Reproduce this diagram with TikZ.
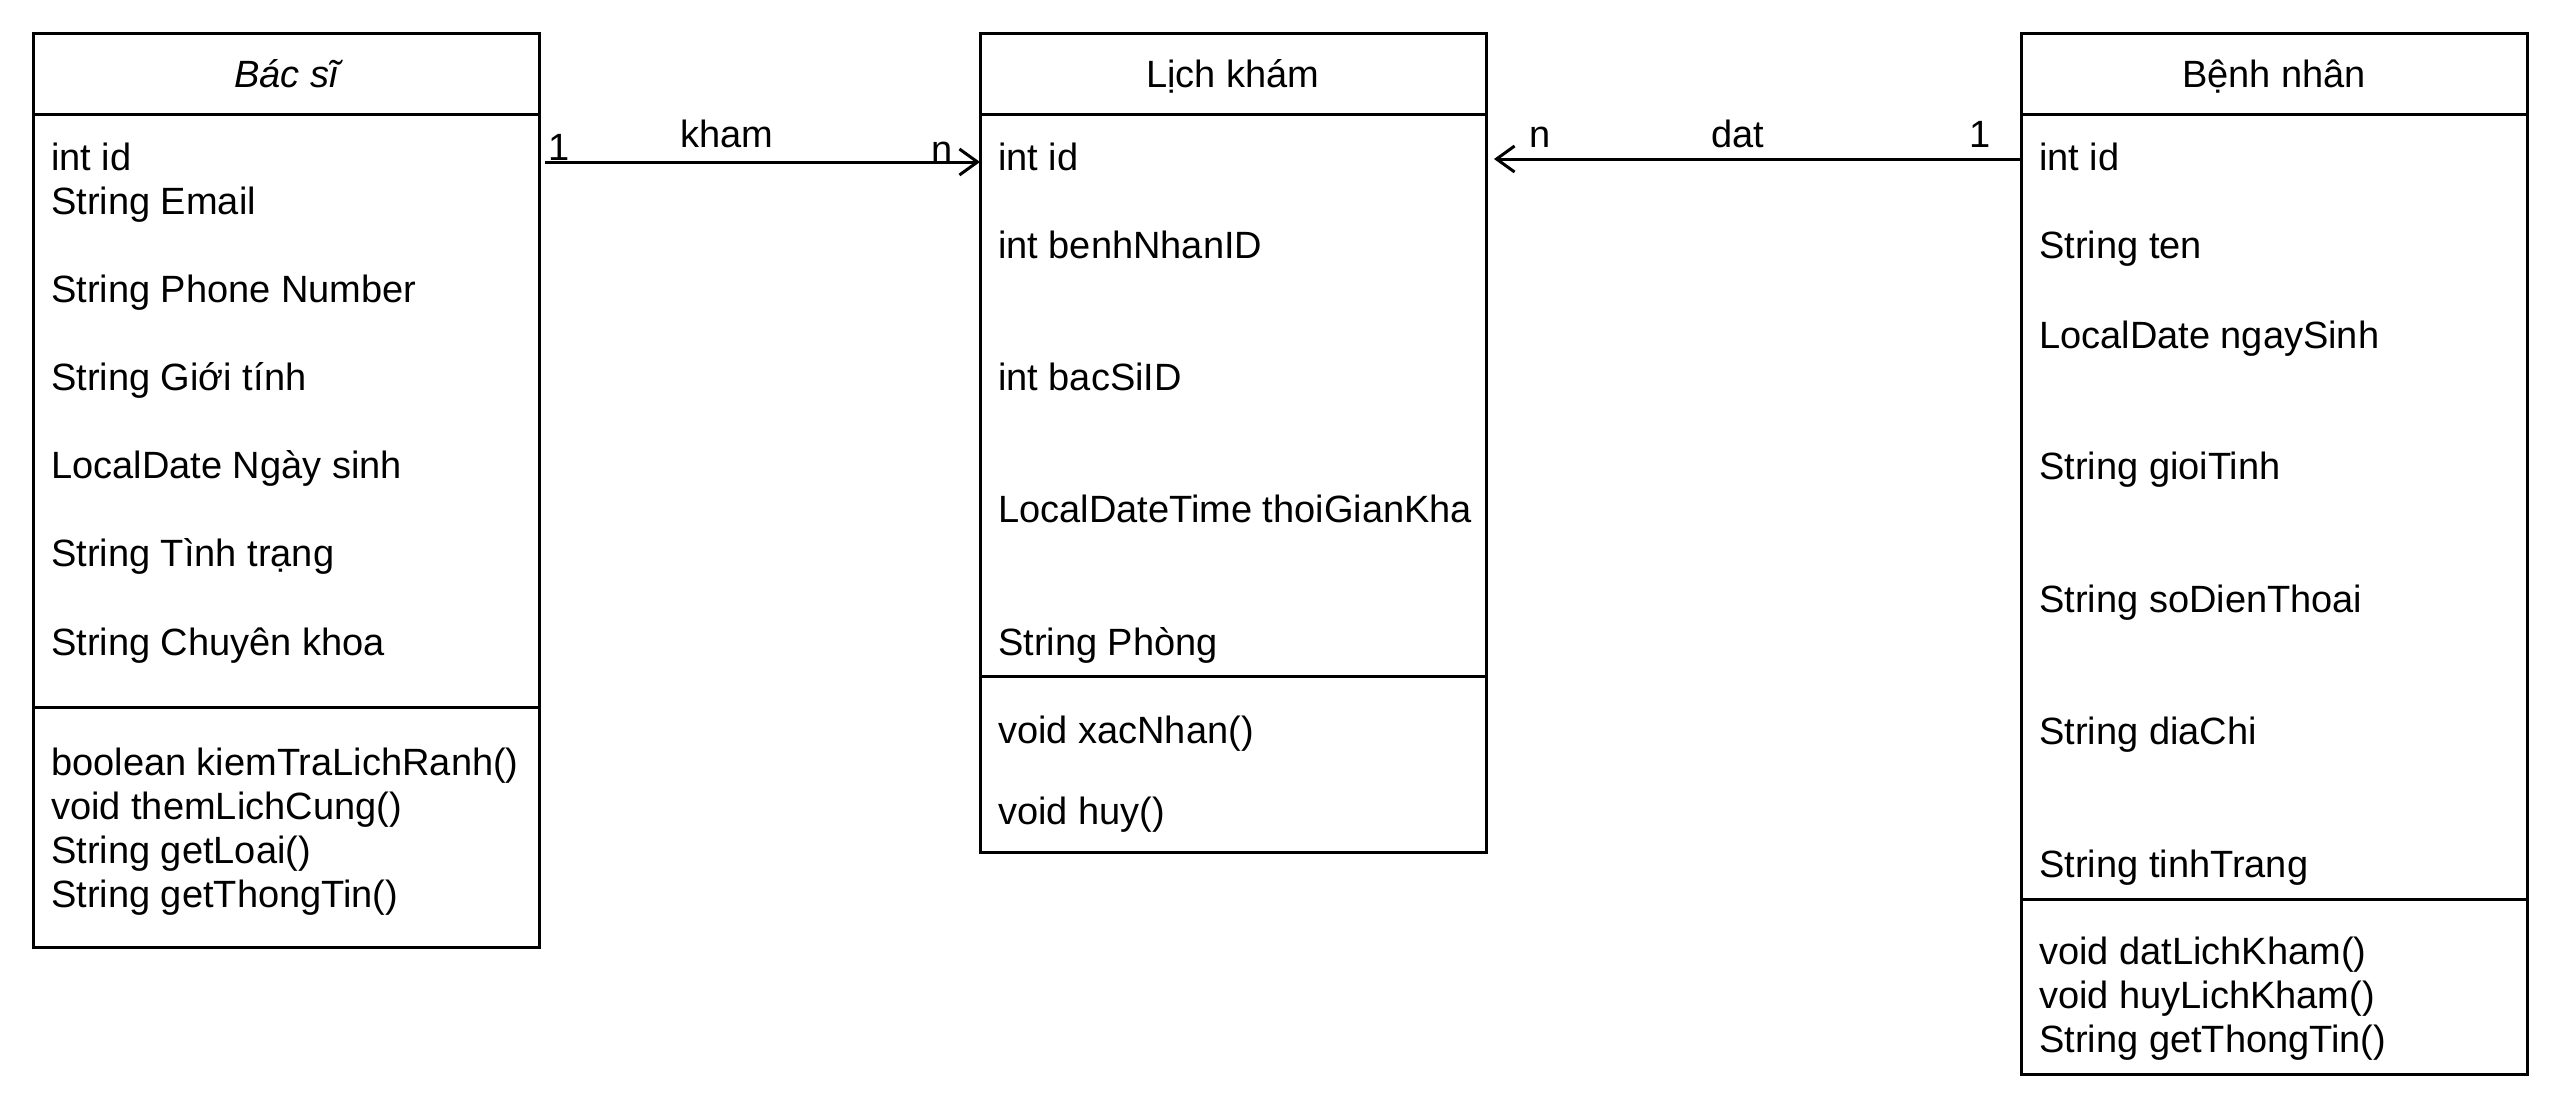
\documentclass[tikz,border=0pt]{standalone}
\usepackage{fontspec}
\setmainfont{Liberation Sans}
\usetikzlibrary{arrows.meta}
\begin{document}
\begin{tikzpicture}[x=1pt,y=-1pt,
  box/.style={draw, line width=3pt, anchor=north west, inner sep=0pt, outer sep=0pt},
  sep/.style={line width=3pt},
  txt/.style={anchor=west, inner sep=0pt, text height=27pt, text depth=0pt, font=\fontsize{38}{44}\selectfont},
  ttl/.style={anchor=center, inner sep=0pt, text height=27pt, text depth=0pt, font=\fontsize{38}{44}\selectfont},
  conn/.style={line width=3pt, -{Straight Barb[length=18pt,width=26pt,line width=3pt]}}
]
\useasboundingbox[fill=white] (0,0) rectangle (2560,1117);

% ---------- Bac si ----------
\node[box, minimum width=506pt, minimum height=914pt] (bacsi) at (33,33) {};
\draw[sep] (33,114) -- (539,114);
\draw[sep] (33,707) -- (539,707);
\node[ttl, font=\fontsize{38}{44}\selectfont\itshape] (bacsiT) at (286,74) {Bác sĩ};
\node[txt] (b1) at (51,157) {int id};
\node[txt] (b2) at (51,201) {String Email};
\node[txt] (b3) at (51,289) {String Phone Number};
\node[txt] (b4) at (51,377) {String Giới tính};
\node[txt] (b5) at (51,465) {LocalDate Ngày sinh};
\node[txt] (b6) at (51,553) {String Tình trạng};
\node[txt] (b7) at (51,642) {String Chuyên khoa};
\node[txt] (bm1) at (51,762) {boolean kiemTraLichRanh()};
\node[txt] (bm2) at (51,806) {void themLichCung()};
\node[txt] (bm3) at (51,850) {String getLoai()};
\node[txt] (bm4) at (51,894) {String getThongTin()};

% ---------- Lich kham ----------
\node[box, minimum width=506pt, minimum height=819pt] (lich) at (980,33) {};
\draw[sep] (980,114) -- (1486,114);
\draw[sep] (980,676) -- (1486,676);
\node[ttl] (lichT) at (1233,74) {Lịch khám};
\node[txt] (l1) at (998,157) {int id};
\node[txt] (l2) at (998,245) {int benhNhanID};
\node[txt] (l3) at (998,377) {int bacSiID};
\node[txt] (l4) at (998,509) {LocalDateTime thoiGianKha};
\node[txt] (l5) at (998,642) {String Phòng};
\node[txt] (lm1) at (998,730) {void xacNhan()};
\node[txt] (lm2) at (998,811) {void huy()};

% ---------- Benh nhan ----------
\node[box, minimum width=506pt, minimum height=1041pt] (benh) at (2021,33) {};
\draw[sep] (2021,114) -- (2527,114);
\draw[sep] (2021,899) -- (2527,899);
\node[ttl] (benhT) at (2274,74) {Bệnh nhân};
\node[txt] (n1) at (2039,157) {int id};
\node[txt] (n2) at (2039,245) {String ten};
\node[txt] (n3) at (2039,335) {LocalDate ngaySinh};
\node[txt] (n4) at (2039,466) {String gioiTinh};
\node[txt] (n5) at (2039,599) {String soDienThoai};
\node[txt] (n6) at (2039,731) {String diaChi};
\node[txt] (n7) at (2039,864) {String tinhTrang};
\node[txt] (nm1) at (2039,951) {void datLichKham()};
\node[txt] (nm2) at (2039,995) {void huyLichKham()};
\node[txt] (nm3) at (2039,1039) {String getThongTin()};

% ---------- connectors ----------
\coordinate (k1) at (545,162);
\draw[conn] (k1) -- (lich.west |- k1);
\node[ttl] (k1lbl) at (559,147) {1};
\node[ttl] (kname) at (727,134) {kham};
\node[ttl] (knlbl) at (942,149) {n};

\coordinate (d2) at (1494,159);
\draw[conn] (benh.west |- d2) -- (d2);
\node[ttl] (dnlbl) at (1540,134) {n};
\node[ttl] (dname) at (1738,134) {dat};
\node[ttl] (d1lbl) at (1980,134) {1};
\end{tikzpicture}
\end{document}
